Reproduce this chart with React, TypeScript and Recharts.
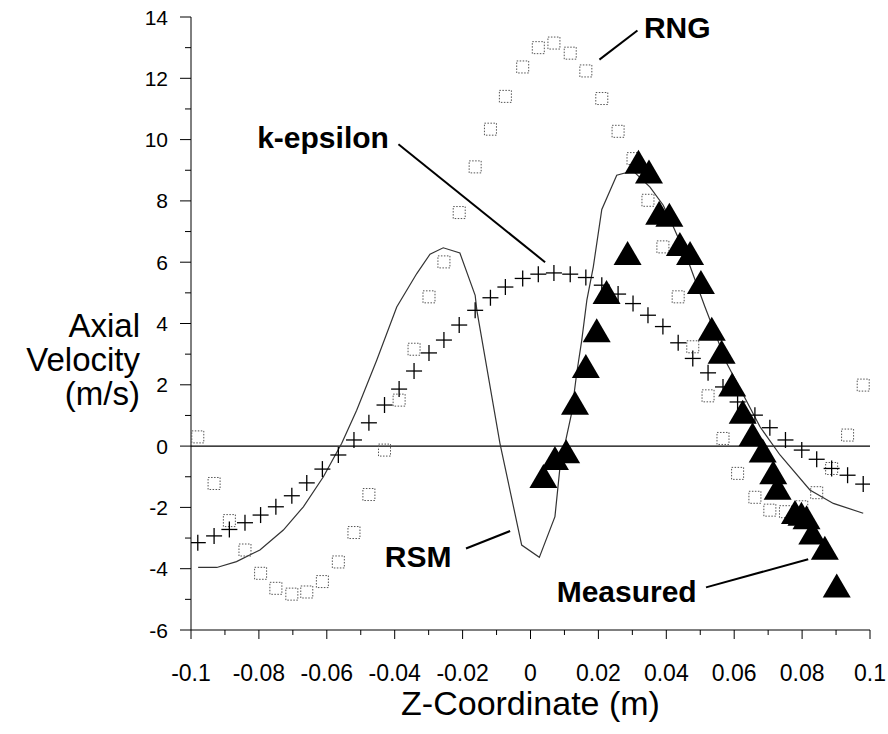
import { ComposedChart, Line, Scatter, XAxis, YAxis, ReferenceLine, ReferenceDot, Label } from 'recharts'

const FONT = "'Liberation Sans', Arial, Helvetica, sans-serif"

// z positions shared by the two simulated scatter series (RNG squares, k-epsilon crosses)
const simZ = [-0.098, -0.0932, -0.0887, -0.0841, -0.0795, -0.075, -0.0703, -0.0659, -0.0613, -0.0566, -0.052, -0.0476, -0.043, -0.0387, -0.0343, -0.0299, -0.0255, -0.021, -0.0163, -0.0118, -0.0074, -0.0023, 0.0023, 0.0069, 0.0117, 0.0163, 0.021, 0.0258, 0.0302, 0.0346, 0.039, 0.0435, 0.0478, 0.0523, 0.0567, 0.061, 0.0661, 0.0705, 0.0751, 0.0799, 0.0843, 0.0887, 0.0934, 0.098]
const rngV = [0.3, -1.22, -2.43, -3.39, -4.15, -4.64, -4.83, -4.76, -4.42, -3.78, -2.82, -1.58, -0.13, 1.5, 3.16, 4.87, 6.01, 7.62, 9.11, 10.34, 11.41, 12.37, 13.0, 13.15, 12.82, 12.24, 11.34, 10.27, 9.38, 8.02, 6.5, 4.87, 3.24, 1.64, 0.25, -0.89, -1.67, -2.09, -2.14, -1.98, -1.52, -0.73, 0.36, 1.99]
const kepsV = [-3.15, -2.93, -2.72, -2.5, -2.25, -1.98, -1.62, -1.2, -0.75, -0.29, 0.2, 0.76, 1.34, 1.86, 2.45, 3.04, 3.46, 3.95, 4.43, 4.84, 5.19, 5.47, 5.61, 5.65, 5.61, 5.5, 5.25, 4.96, 4.65, 4.27, 3.9, 3.37, 2.86, 2.39, 1.93, 1.44, 1.01, 0.6, 0.2, -0.13, -0.43, -0.73, -0.95, -1.24]

// RSM solid curve
const rsmZ = [-0.0979, -0.0924, -0.0866, -0.0797, -0.0728, -0.0669, -0.061, -0.0556, -0.0512, -0.0453, -0.0394, -0.0335, -0.0296, -0.0257, -0.0208, -0.0163, -0.0158, -0.009, -0.0026, 0.0026, 0.0072, 0.0087, 0.0121, 0.0136, 0.0151, 0.0166, 0.0185, 0.021, 0.0254, 0.0278, 0.0305, 0.0352, 0.0391, 0.0421, 0.046, 0.0514, 0.0578, 0.0676, 0.0735, 0.0823, 0.0892, 0.098]
const rsmV = [-3.96, -3.96, -3.77, -3.39, -2.74, -1.98, -1.0, 0.09, 1.17, 2.8, 4.54, 5.63, 6.26, 6.47, 6.3, 4.92, 4.43, 0.09, -3.23, -3.63, -2.3, -0.67, 1.07, 2.37, 3.46, 4.76, 5.85, 7.72, 8.84, 8.91, 8.95, 8.45, 7.86, 7.15, 6.17, 4.54, 2.7, 0.63, -0.29, -1.43, -1.87, -2.19]

// Measured (filled triangles)
const measZ = [0.0038, 0.0072, 0.0105, 0.0131, 0.0163, 0.0195, 0.0224, 0.0286, 0.0318, 0.0349, 0.0379, 0.0409, 0.044, 0.047, 0.0502, 0.0534, 0.0563, 0.0594, 0.0625, 0.0654, 0.0684, 0.0715, 0.0728, 0.0779, 0.0798, 0.0813, 0.083, 0.0867, 0.0902]
const measV = [-1.11, -0.52, -0.3, 1.28, 2.48, 3.65, 4.9, 6.17, 9.15, 8.83, 7.48, 7.42, 6.46, 6.17, 5.22, 3.7, 2.95, 1.88, 0.99, 0.26, -0.27, -0.98, -1.49, -2.28, -2.34, -2.45, -2.95, -3.45, -4.68]

const xTicks = [-0.1, -0.09, -0.08, -0.07, -0.06, -0.05, -0.04, -0.03, -0.02, -0.01, 0, 0.01, 0.02, 0.03, 0.04, 0.05, 0.06, 0.07, 0.08, 0.09, 0.1]
const yTicks = [-6, -5, -4, -3, -2, -1, 0, 1, 2, 3, 4, 5, 6, 7, 8, 9, 10, 11, 12, 13, 14]

// annotation labels: [text, z, v of text baseline-left], leaders: [z1, v1, z2, v2]
const notes: [string, number, number][] = [
  ['RNG', 0.0334, 13.3],
  ['k-epsilon', -0.0805, 9.71],
  ['RSM', -0.0429, -3.96],
  ['Measured', 0.0077, -5.08],
]
const leaders: [number, number, number, number][] = [
  [0.0203, 12.61, 0.0315, 13.56],
  [-0.0389, 9.85, 0.0043, 6.0],
  [-0.019, -3.34, -0.006, -2.77],
  [0.0517, -4.61, 0.0818, -3.69],
]

const pts = (zs: number[], vs: number[]) => zs.map((x, i) => ({ x, y: vs[i] }))
const rng = pts(simZ, rngV)
const keps = pts(simZ, kepsV)
const rsm = pts(rsmZ, rsmV)
const meas = pts(measZ, measV)

const Square = (p: any) => (
  <rect x={p.cx - 6} y={p.cy - 6} width={12} height={12} fill="none" stroke="#555" strokeWidth={1} strokeDasharray="1.5 1.5" />
)
const Cross = (p: any) => (
  <g stroke="#000" strokeWidth={1.3}>
    <line x1={p.cx - 8} x2={p.cx + 8} y1={p.cy} y2={p.cy} />
    <line x1={p.cx} x2={p.cx} y1={p.cy - 8} y2={p.cy + 8} />
  </g>
)
const Tri = (p: any) => (
  <polygon points={`${p.cx},${p.cy - 16} ${p.cx - 14},${p.cy + 8} ${p.cx + 14},${p.cy + 8}`} fill="#000" />
)

const YTick = (p: any) => {
  const v = p.payload.value
  const major = v % 2 === 0
  return (
    <g>
      <line x1={p.x} x2={p.x - (major ? 11 : 6)} y1={p.y} y2={p.y} stroke="#000" />
      {major && (
        <text x={p.x - 23} y={p.y} dy="0.36em" textAnchor="end" fontSize={21} fontFamily={FONT} fill="#000">{v}</text>
      )}
    </g>
  )
}
const XTick = (p: any) => {
  const v = p.payload.value
  const major = Math.abs(Math.round(v * 100)) % 2 === 0
  return (
    <g>
      <line x1={p.x} x2={p.x} y1={p.y} y2={p.y + (major ? 9 : 5)} stroke="#000" />
      {major && (
        <text x={p.x} y={p.y + 51} textAnchor="middle" fontSize={23} fontFamily={FONT} fill="#000">{Number(v.toFixed(2)).toString()}</text>
      )}
    </g>
  )
}

const YTitle = (p: any) => {
  const vb = p.viewBox || { x: 0, y: 17, width: 191, height: 613 }
  const rx = vb.x + 140
  const mid = vb.y + vb.height / 2
  return (
    <text textAnchor="end" fontSize={33} fontFamily={FONT} fill="#000">
      <tspan x={rx} y={mid + 13}>Axial</tspan>
      <tspan x={rx} y={mid + 47}>Velocity</tspan>
      <tspan x={rx} y={mid + 81}>(m/s)</tspan>
    </text>
  )
}
const XTitle = (p: any) => {
  const vb = p.viewBox || { x: 191, y: 630, width: 679, height: 104 }
  return (
    <text x={vb.x + vb.width / 2} y={vb.y + 85} textAnchor="middle" fontSize={34} fontFamily={FONT} fill="#000">Z-Coordinate (m)</text>
  )
}

export default function App() {
  return (
    <div style={{ position: 'absolute', left: 0, top: 0, background: '#fff' }}>
      <ComposedChart width={888} height={734} margin={{ top: 17, right: 18, left: 0, bottom: 0 }}>
        <XAxis type="number" dataKey="x" domain={[-0.1, 0.1]} ticks={xTicks} interval={0} height={104}
          tick={XTick} tickLine={false} tickSize={0} tickMargin={0} axisLine={{ stroke: '#000' }} allowDataOverflow>
          <Label content={XTitle} />
        </XAxis>
        <YAxis type="number" dataKey="y" domain={[-6, 14]} ticks={yTicks} interval={0} width={191}
          tick={YTick} tickLine={false} tickSize={0} tickMargin={0} axisLine={{ stroke: '#000' }} allowDataOverflow>
          <Label content={YTitle} />
        </YAxis>
        <ReferenceLine y={0} stroke="#000" strokeWidth={1.2} />
        <Scatter data={rng} dataKey="y" shape={Square} isAnimationActive={false} />
        <Scatter data={keps} dataKey="y" shape={Cross} isAnimationActive={false} />
        <Line data={rsm} dataKey="y" type="linear" stroke="#333" strokeWidth={1.2} dot={false} activeDot={false} isAnimationActive={false} />
        <Scatter data={meas} dataKey="y" shape={Tri} isAnimationActive={false} />
        {leaders.map(([x1, y1, x2, y2], i) => (
          <ReferenceLine key={'l' + i} segment={[{ x: x1, y: y1 }, { x: x2, y: y2 }]} stroke="#000" strokeWidth={2} ifOverflow="visible" />
        ))}
        {notes.map(([t, x, y]) => (
          <ReferenceDot key={t} x={x} y={y} r={0} ifOverflow="visible"
            shape={(p: any) => (
              <text x={p.cx} y={p.cy} fontSize={30} fontWeight="bold" fontFamily={FONT} fill="#000">{t}</text>
            )} />
        ))}
      </ComposedChart>
    </div>
  )
}
